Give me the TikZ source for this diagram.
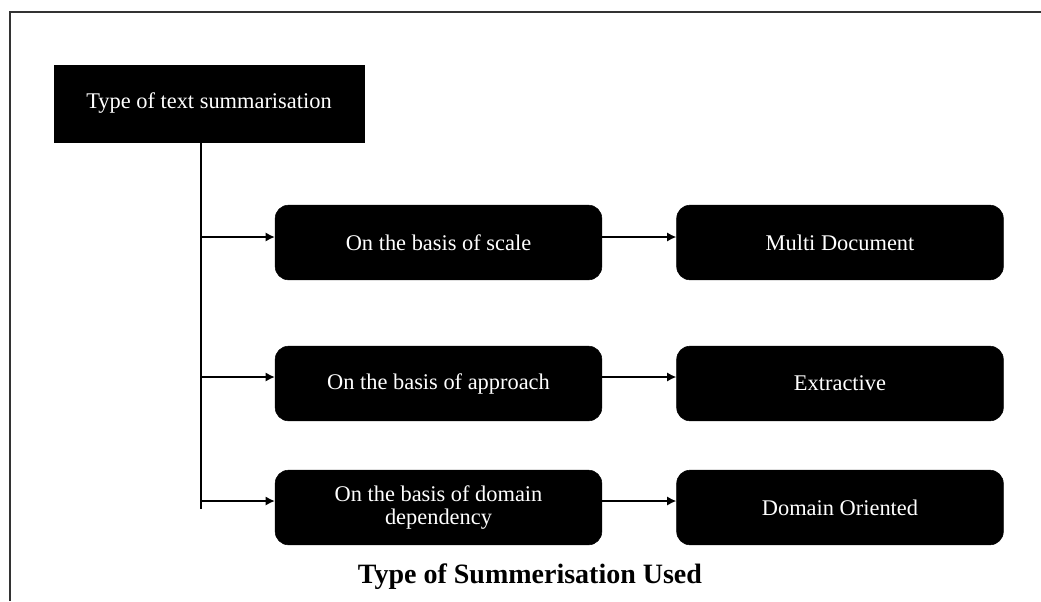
\documentclass[tikz,border=0pt]{standalone}
\usepackage{fontspec}
\setmainfont{Liberation Serif}
\usetikzlibrary{arrows.meta}
\begin{document}
\begin{tikzpicture}[x=0.75pt,y=-0.75pt,
  box/.style={fill=black,draw=black,rounded corners=10pt,text=white,font=\fontsize{16.8}{17.5}\selectfont,align=center,inner sep=0pt},
  topbox/.style={fill=black,draw=black,text=white,font=\fontsize{16.8}{17.5}\selectfont,inner sep=0pt},
  conn/.style={line width=2.2pt,-{Latex[length=7pt,width=7pt]}},
  frame/.style={line width=2pt,draw=black!80}]
\useasboundingbox (0,0) rectangle (1041,601);
\draw[frame] (10,601) -- (10,12) -- (1041,12);
\node[topbox,minimum width=232.5pt,minimum height=57.75pt] (top) at (209,103.5) {Type of text summarisation};
\node[box,minimum width=245pt,minimum height=56pt] (a1) at (438.5,242.5) {On the basis of scale};
\node[box,minimum width=245pt,minimum height=56pt] (b1) at (840,242.5) {Multi Document};
\node[box,minimum width=245pt,minimum height=56pt] (a2) at (438.5,383.5) {On the basis of approach};
\node[box,minimum width=245pt,minimum height=56pt] (b2) at (840,383.5) {Extractive};
\node[box,minimum width=245pt,minimum height=56pt] (a3) at (438.5,507.5) {On the basis of domain\\dependency};
\node[box,minimum width=245pt,minimum height=56pt] (b3) at (840,507.5) {Domain Oriented};
\coordinate (tr) at (201,142);
\coordinate (bt) at (201,509);
\draw[line width=2.2pt] (top.south -| tr) -- (bt);
\coordinate (j1) at (201,237);
\coordinate (j2) at (201,377);
\coordinate (j3) at (201,501);
\draw[conn] (j1) -- (j1 -| a1.west);
\draw[conn] (j2) -- (j2 -| a2.west);
\draw[conn] (j3) -- (j3 -| a3.west);
\draw[conn] (a1.east |- j1) -- (j1 -| b1.west);
\draw[conn] (a2.east |- j2) -- (j2 -| b2.west);
\draw[conn] (a3.east |- j3) -- (j3 -| b3.west);
\node[font=\bfseries\fontsize{21}{23}\selectfont] (cap) at (530,577) {Type of Summerisation Used};
\end{tikzpicture}
\end{document}
